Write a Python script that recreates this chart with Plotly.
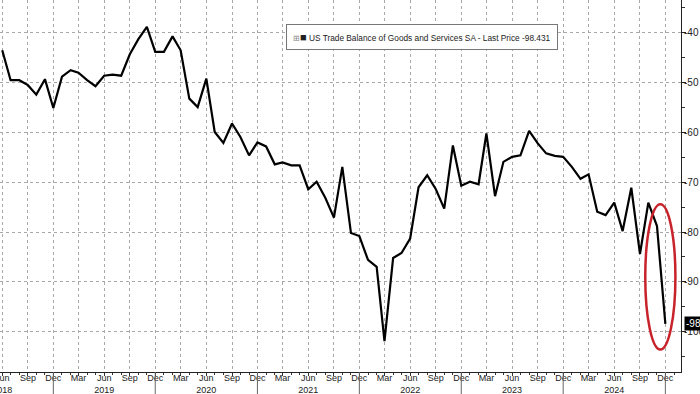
import pandas as pd
import plotly.graph_objects as go

# Monthly US trade balance (USD bn), Jun 2018 .. Dec 2024
values = [
    -43.5, -49.5, -49.5, -50.5, -52.4, -49.3, -55.1,            # 2018 Jun-Dec
    -48.8, -47.5, -48.0, -49.5, -50.7, -48.6, -48.4, -48.6, -44.3, -41.3, -38.8, -43.8,  # 2019
    -43.8, -40.7, -43.5, -53.2, -54.9, -49.2, -59.9, -62.1, -58.2, -60.9, -64.6, -62.0,  # 2020
    -62.8, -66.4, -66.0, -66.6, -66.6, -71.4, -69.9, -73.1, -77.1, -66.9, -80.2, -80.8,  # 2021
    -85.6, -87.0, -101.9, -85.2, -84.2, -81.3, -71.0, -68.6, -71.4, -75.3, -62.6, -70.7, # 2022
    -69.9, -70.4, -60.2, -72.8, -65.9, -64.9, -64.6, -59.7, -62.2, -64.2, -64.7, -64.9,  # 2023
    -66.9, -69.3, -68.4, -75.9, -76.6, -74.1, -79.8, -71.1, -84.4, -74.1, -78.8, -98.431, # 2024
]
dates = pd.date_range("2018-06-01", periods=len(values), freq="MS")

series_name = "US Trade Balance of Goods and Services SA - Last Price"
y_ticks = [-40, -50, -60, -70, -80, -90, -100]
y_tick_text = ["-40", "-50", "-60", "-70", "-80", "-90", "-100"]

tick_dates = pd.date_range("2018-06-01", "2024-12-01", freq="3MS")
tick_text = [d.strftime("%b") + ("<br>" + d.strftime("%Y") if d.month == 6 else "") for d in tick_dates]
year_sep = pd.date_range("2018-12-01", "2024-12-01", freq="12MS")

FONT = "Liberation Sans, Arial, sans-serif"
GRID = "#a8a8a8"

fig = go.Figure()
fig.add_trace(go.Scatter(x=dates, y=values, mode="lines",
                         line=dict(color="black", width=2.2),
                         showlegend=False, hoverinfo="skip"))

xr = [pd.Timestamp("2018-05-24"), pd.Timestamp("2025-01-26")]
fig.update_layout(
    width=700, height=394,
    margin=dict(l=0, r=19, t=0, b=22),
    paper_bgcolor="white", plot_bgcolor="white",
    font=dict(family=FONT, size=9, color="#222"),
    xaxis=dict(
        type="date", range=xr,
        tickvals=tick_dates, ticktext=tick_text,
        ticks="outside", ticklen=3, tickcolor="#333", tickwidth=1,
        showline=True, linecolor="#222", linewidth=1,
        showgrid=True, gridcolor=GRID, griddash="dot", gridwidth=1,
        minor=dict(dtick="M1", tick0="2018-06-01", ticks="outside", ticklen=2,
                   tickcolor="#333", showgrid=False),
        tickfont=dict(size=9, color="#222"),
        ticklabelstandoff=-6, ticklabeloverflow="allow",
        automargin=False, zeroline=False,
    ),
    yaxis=dict(
        side="right", range=[-108.1, -33.4],
        tickvals=y_ticks, ticktext=y_tick_text,
        ticks="outside", ticklen=4, tickcolor="#222",
        showline=True, linecolor="#222", linewidth=1,
        showgrid=True, gridcolor=GRID, griddash="dot", gridwidth=1,
        minor=dict(dtick=5, ticks="outside", ticklen=3, tickcolor="#333", showgrid=False),
        tickfont=dict(size=10, color="#222"),
        ticklabelstandoff=-4, ticklabeloverflow="allow",
        automargin=False, zeroline=False,
    ),
)

# year separators below the axis at each December (paper position from the axis range)
span = (xr[1] - xr[0]).total_seconds()
for d in year_sep:
    px = (d - xr[0]).total_seconds() / span
    fig.add_shape(type="line", xref="paper", yref="paper", x0=px, x1=px, y0=0, y1=-0.07,
                  line=dict(color="#666", width=1), layer="above")

# legend box
fig.add_annotation(
    xref="paper", yref="paper", x=0.62, y=0.9, xanchor="center", yanchor="middle",
    text=("<span style='color:#888;font-size:8px'>⊞</span><span style='font-size:11px'>■</span> "
          f"{series_name} {values[-1]:.3f}"),
    showarrow=False, bgcolor="white", bordercolor="#777", borderwidth=1, borderpad=6,
    font=dict(family=FONT, size=8.3, color="#222"),
)

# red ellipse highlighting the latest drop
fig.add_shape(type="circle", xref="x", yref="y",
              x0="2024-09-20", x1="2025-01-06", y0=-103.6, y1=-74.4,
              line=dict(color="#c8232b", width=2.5), layer="above")

# last price tag
fig.add_annotation(
    xref="paper", yref="y", x=1.0, y=values[-1], xanchor="left", yanchor="middle",
    text=f"{values[-1]:.3f}", showarrow=False, bgcolor="black",
    font=dict(family=FONT, size=10, color="white"), borderpad=1, xshift=3,
)

fig.write_html("out.html")
